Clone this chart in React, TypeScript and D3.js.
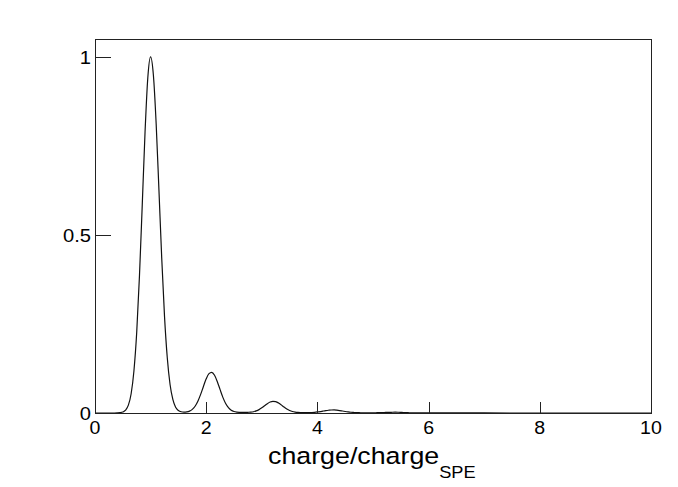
import React from "react";
import * as d3 from "d3";

// Histogram sampled at bin centers (charge / charge_SPE), normalised to peak = 1
const binCenters = [
  0.0, 0.05, 0.1, 0.15, 0.2, 0.25, 0.3, 0.35, 0.4, 0.45, 0.5, 0.55, 0.6, 0.65, 0.7, 0.75, 0.8, 0.85, 0.9, 0.95,
  1.0, 1.05, 1.1, 1.15, 1.2, 1.25, 1.3, 1.35, 1.4, 1.45, 1.5, 1.55, 1.6, 1.65, 1.7, 1.75, 1.8, 1.85, 1.9, 1.95,
  2.0, 2.05, 2.1, 2.15, 2.2, 2.25, 2.3, 2.35, 2.4, 2.45, 2.5, 2.55, 2.6, 2.65, 2.7, 2.75, 2.8, 2.85, 2.9, 2.95,
  3.0, 3.05, 3.1, 3.15, 3.2, 3.25, 3.3, 3.35, 3.4, 3.45, 3.5, 3.55, 3.6, 3.65, 3.7, 3.75, 3.8, 3.85, 3.9, 3.95,
  4.0, 4.05, 4.1, 4.15, 4.2, 4.25, 4.3, 4.35, 4.4, 4.45, 4.5, 4.55, 4.6, 4.65, 4.7, 4.75, 4.8, 4.85, 4.9, 4.95,
  5.0, 5.05, 5.1, 5.15, 5.2, 5.25, 5.3, 5.35, 5.4, 5.45, 5.5, 5.55, 5.6, 5.65, 5.7, 5.75, 5.8, 5.9, 6.0,
  7.0, 8.0, 9.0, 10.0,
];
const counts = [
  0, 0, 0, 0, 0, 0, 0, 0, 0.0002, 0.0008, 0.0026, 0.008, 0.022, 0.054, 0.118, 0.226, 0.386, 0.585, 0.788, 0.942,
  1.0, 0.949, 0.812, 0.626, 0.435, 0.272, 0.155, 0.08, 0.038, 0.0163, 0.007, 0.0035, 0.0026, 0.0032, 0.0053, 0.0102, 0.0189, 0.0329, 0.0522, 0.0746,
  0.0959, 0.1105, 0.1143, 0.1058, 0.0879, 0.0655, 0.0439, 0.0267, 0.0149, 0.0078, 0.0042, 0.0025, 0.0019, 0.0017, 0.0017, 0.002, 0.0024, 0.0036, 0.0059, 0.0095,
  0.0145, 0.0204, 0.0263, 0.0308, 0.0329, 0.032, 0.0283, 0.0228, 0.0168, 0.0114, 0.0072, 0.0043, 0.0026, 0.0017, 0.0013, 0.0011, 0.001, 0.001, 0.0014, 0.002,
  0.0029, 0.004, 0.0054, 0.0067, 0.0077, 0.0084, 0.0085, 0.0079, 0.0069, 0.0056, 0.0043, 0.0031, 0.0021, 0.0015, 0.001, 0.0008, 0.0006, 0.0005, 0.0005, 0.0005,
  0.0006, 0.0007, 0.0009, 0.0011, 0.0014, 0.0017, 0.0019, 0.0021, 0.0022, 0.0021, 0.0018, 0.0014, 0.001, 0.0007, 0.0005, 0.0004, 0.0003, 0.0003, 0.0002,
  0.0001, 0, 0, 0,
];

const xTicks = [0, 2, 4, 6, 8, 10];
const yTicks = [0, 0.5, 1];
const yTickLabels = ["0", "0.5", "1"];

const W = 678;
const H = 487;
const left = 95;
const right = 651;
const top = 39;
const bottom = 413;

export default function App() {
  const x = d3.scaleLinear().domain([0, 10]).range([left, right]);
  const y = d3.scaleLinear().domain([0, 1.05]).range([bottom, top]);
  const pts = binCenters.map((c, i) => [c, counts[i]] as [number, number]);
  const line = d3
    .line<[number, number]>()
    .x((d) => x(d[0]))
    .y((d) => y(d[1]))
    .curve(d3.curveMonotoneX);

  const font = "'Liberation Sans', Arial, Helvetica, sans-serif";
  const axisColor = "#222";

  return (
    <svg
      width={W}
      height={H}
      style={{ position: "absolute", left: 0, top: 0, background: "#fff" }}
      fontFamily={font}
    >
      <rect x={0} y={0} width={W} height={H} fill="#fff" />
      <path d={line(pts) || ""} fill="none" stroke="#111" strokeWidth={1.2} />
      <rect
        x={left + 0.5}
        y={top + 0.5}
        width={right - left}
        height={bottom - top}
        fill="none"
        stroke={axisColor}
        strokeWidth={1}
      />
      {xTicks.map((t) => (
        <g key={"xt" + t}>
          <line
            x1={Math.round(x(t)) + 0.5}
            x2={Math.round(x(t)) + 0.5}
            y1={bottom + 0.5}
            y2={bottom - 11}
            stroke={axisColor}
          />
          <text
            transform={`translate(${x(t)},${433.5}) scale(1.12,1)`}
            textAnchor="middle"
            fontSize={17.5}
            fill="#000"
          >
            {t}
          </text>
        </g>
      ))}
      {yTicks.map((t, i) => (
        <g key={"yt" + t}>
          <line
            x1={left + 0.5}
            x2={left + 16}
            y1={Math.round(y(t)) + 0.5}
            y2={Math.round(y(t)) + 0.5}
            stroke={axisColor}
          />
          <text
            transform={`translate(${91},${y(t) + 6.8}) scale(1.12,1)`}
            textAnchor="end"
            fontSize={18}
            fill="#000"
          >
            {yTickLabels[i]}
          </text>
        </g>
      ))}
      <text
        transform={`translate(${268},${464}) scale(1.14,1)`}
        fontSize={23.5}
        fill="#000"
      >
        charge/charge
        <tspan fontSize={16} dy={14}>
          SPE
        </tspan>
      </text>
    </svg>
  );
}
